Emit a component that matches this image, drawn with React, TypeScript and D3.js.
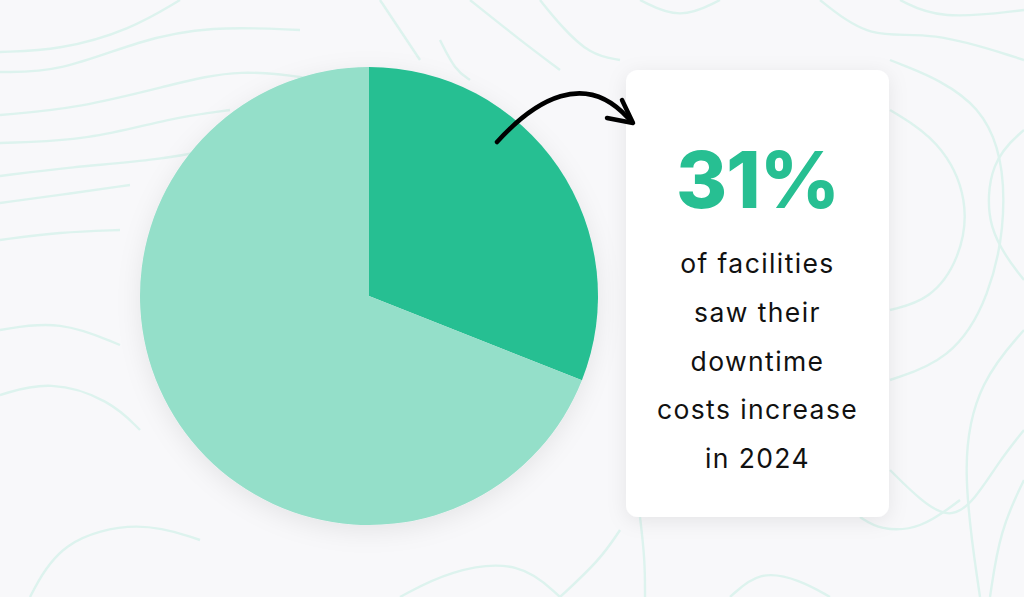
import React from "react";
import * as d3 from "d3";

const categories = ["Downtime costs increased", "Other facilities"];
const values = [31, 69];
const headline = "31%";
const bodyLines = ["of facilities", "saw their", "downtime", "costs increase", "in 2024"];

const W = 1024, H = 597;
const cx = 369, cy = 296, R = 229;
const colors = ["#27BF92", "#94DFC9"];

const contours: [number, number][][] = [
  [[0, 52], [60, 50], [130, 30], [180, 0]],
  [[0, 72], [60, 72], [140, 40], [210, 26], [300, 30]],
  [[0, 115], [80, 108], [170, 85], [240, 68], [320, 80]],
  [[0, 143], [90, 140], [170, 118], [230, 110]],
  [[0, 176], [70, 167], [160, 160], [220, 148]],
  [[0, 203], [60, 195], [130, 185]],
  [[0, 240], [60, 232], [120, 230]],
  [[0, 330], [60, 320], [120, 345]],
  [[0, 395], [50, 380], [110, 400], [140, 430]],
  [[30, 597], [60, 540], [140, 520], [200, 540]],
  [[380, 0], [400, 30], [420, 60]],
  [[470, 0], [520, 40], [560, 70]],
  [[540, 0], [560, 25], [590, 55], [620, 60]],
  [[640, 0], [680, 20], [720, 0]],
  [[820, 0], [870, 40], [930, 30], [1024, 60]],
  [[900, 0], [940, 20], [1024, 10]],
  [[890, 110], [940, 140], [970, 200], [960, 260], [930, 300], [890, 310]],
  [[890, 60], [990, 100], [1010, 200], [990, 300], [950, 360], [890, 380]],
  [[1024, 130], [990, 160], [985, 230], [1024, 280]],
  [[1024, 330], [980, 380], [960, 460], [980, 597]],
  [[1024, 480], [1000, 530], [990, 597]],
  [[890, 470], [920, 500], [950, 520], [975, 500], [1000, 460], [1024, 430]],
  [[860, 517], [880, 530], [920, 530], [960, 500]],
  [[640, 517], [645, 560], [645, 597]],
  [[560, 597], [600, 560], [620, 530]],
  [[400, 597], [450, 570], [520, 560], [560, 597]],
  [[730, 597], [760, 570], [800, 580], [830, 597]],
  [[440, 40], [455, 70], [470, 80]],
];

export default function App() {
  const pie = d3.pie<number>().sort(null).value((d) => d)(values);
  const arc = d3.arc<d3.PieArcDatum<number>>().innerRadius(0).outerRadius(R);
  const line = d3.line().curve(d3.curveBasis);
  const arrowPath = d3.path();
  arrowPath.moveTo(497, 142);
  arrowPath.bezierCurveTo(535, 100, 585, 70, 628, 118);
  return (
    <svg width={W} height={H} style={{ display: "block", position: "absolute", left: 0, top: 0 }}>
      <defs>
        <filter id="sh" x="-20%" y="-20%" width="140%" height="140%">
          <feDropShadow dx="0" dy="4" stdDeviation="10" floodColor="#000" floodOpacity="0.08" />
        </filter>
        <filter id="sh2" x="-20%" y="-20%" width="140%" height="140%">
          <feDropShadow dx="0" dy="6" stdDeviation="12" floodColor="#000" floodOpacity="0.08" />
        </filter>
      </defs>
      <rect width={W} height={H} fill="#F8F8FA" />
      {contours.map((c, i) => (
        <path key={i} d={line(c) || ""} fill="none" stroke="#DDF3EE" strokeWidth={2.4} />
      ))}
      <g transform={`translate(${cx},${cy})`} filter="url(#sh2)">
        {pie.map((p, i) => (
          <path key={categories[i]} d={arc(p) || ""} fill={colors[i]} />
        ))}
      </g>
      <rect x={626} y={70} width={263} height={447} rx={12} fill="#FFFFFF" filter="url(#sh)" />
      <path d={arrowPath.toString()} fill="none" stroke="#000" strokeWidth={4.5} strokeLinecap="round" />
      <path d="M622,100 L633,123 L607,118" fill="none" stroke="#000" strokeWidth={4.5} strokeLinecap="round" strokeLinejoin="round" />
      <text x={757.5} y={208} textAnchor="middle" fill="#27BF92" fontFamily="Inter, sans-serif" fontWeight={800} fontSize={78} letterSpacing={-1}>
        {headline}
      </text>
      {bodyLines.map((t, i) => (
        <text key={t} x={757.5} y={273 + i * 48.75} textAnchor="middle" fill="#111111" fontFamily="Inter, sans-serif" fontWeight={400} fontSize={26.5} letterSpacing={1.4}>
          {t}
        </text>
      ))}
    </svg>
  );
}
